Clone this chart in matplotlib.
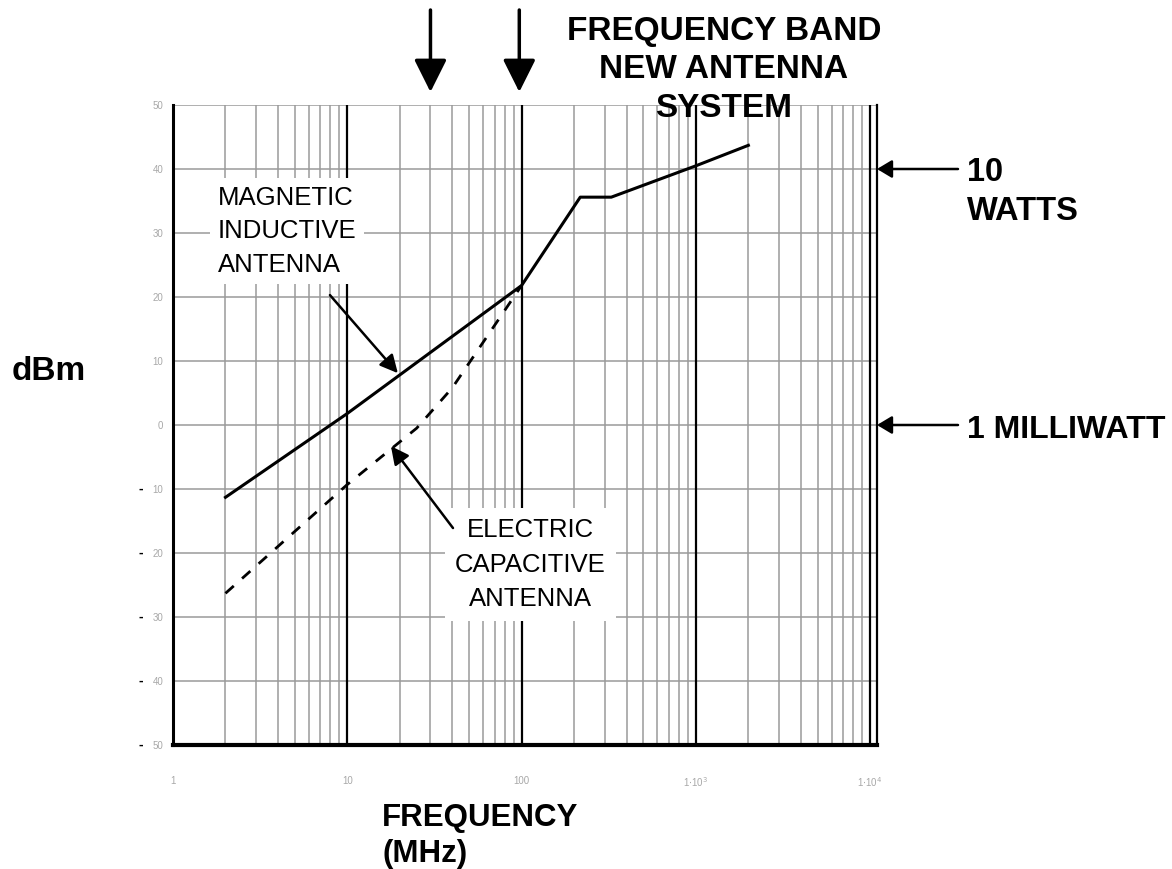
import matplotlib.pyplot as plt
import numpy as np

# data
freq_mag = [2, 10, 100, 217, 327, 1000, 2000]        # MHz
dbm_mag = [-11.3, 1.8, 21.8, 35.6, 35.6, 40.5, 43.7]  # dBm

freq_el = [2, 10, 25, 40, 100]
dbm_el = [-26.3, -9.3, -0.5, 5.8, 21.8]

y_ticks = [-50, -40, -30, -20, -10, 0, 10, 20, 30, 40, 50]
x_ticks = [1, 10, 100, 1000, 10000]
x_labels = ['1', '10', '100', r'1$\cdot$10$^3$', r'1$\cdot$10$^4$']

band_marks = [30, 97]      # MHz, arrows on top
level_marks = [40, 0]      # dBm: 10 W and 1 mW

plt.rcParams['font.family'] = ['Liberation Sans', 'DejaVu Sans']

fig = plt.figure(figsize=(11.72, 8.69), dpi=100)
ax = fig.add_axes([173 / 1172, 124 / 869, 704 / 1172, 640 / 869])
ax.set_xscale('log')
ax.set_xlim(1, 10 ** (704 / 174.3))
ax.set_ylim(-50, 50)

grey = '#9a9a9a'
# grid
for dec in [1, 10, 100, 1000]:
    for k in range(2, 10):
        ax.axvline(dec * k, color=grey, lw=1.1, zorder=1)
for d in x_ticks[1:]:
    ax.axvline(d, color='black', lw=1.6, zorder=2)
for v in y_ticks:
    ax.axhline(v, color=grey, lw=1.1, zorder=1)

# curves
ax.plot(freq_mag, dbm_mag, color='black', lw=2.2, zorder=5)
ax.plot(freq_el, dbm_el, color='black', lw=2.0, dashes=(4, 4), zorder=5)

# spines
ax.spines['top'].set_visible(False)
ax.spines['left'].set_linewidth(2.2)
ax.spines['bottom'].set_linewidth(3)
ax.spines['right'].set_linewidth(1.6)
for s in ax.spines.values():
    s.set_zorder(6)

ax.set_yticks(y_ticks)
ax.set_yticklabels([str(abs(v)) for v in y_ticks], color='#a8a8a8', fontsize=7)
ax.set_xticks(x_ticks)
ax.set_xticklabels(x_labels, color='#a8a8a8', fontsize=7)
ax.minorticks_off()
ax.tick_params(axis='both', length=0)
ax.tick_params(axis='y', pad=7)
ax.tick_params(axis='x', pad=22)
for v in y_ticks:
    if v < 0:
        ax.annotate('-', xy=(0, v), xycoords=('axes fraction', 'data'),
                    xytext=(-23, 0), textcoords='offset points',
                    ha='center', va='center', fontsize=10, fontweight='bold')

# annotation labels
ax.text(1.81, 30.3, 'MAGNETIC\nINDUCTIVE\nANTENNA',
        ha='left', va='center', fontsize=18.5, linespacing=1.5, zorder=7,
        bbox=dict(boxstyle='square,pad=0.3', fc='white', ec='none'))
ax.text(112, -21.8, 'ELECTRIC\nCAPACITIVE\nANTENNA',
        ha='center', va='center', fontsize=18.5, linespacing=1.55, zorder=7,
        bbox=dict(boxstyle='square,pad=0.4', fc='white', ec='none'))
arrow_kw = dict(arrowstyle='-|>,head_length=0.6,head_width=0.3',
                color='black', lw=1.8, mutation_scale=18, shrinkA=0, shrinkB=0)
ax.annotate('', xy=(19.5, 8.1), xytext=(7.95, 20.3), arrowprops=arrow_kw, zorder=8)
ax.annotate('', xy=(17.8, -3.3), xytext=(40.4, -16.1), arrowprops=arrow_kw, zorder=8)

# frequency band arrows
for f in band_marks:
    ax.annotate('', xy=(f, 1 - 92 / 869), xycoords=('data', 'figure fraction'),
                xytext=(f, 1 - 10 / 869), textcoords=('data', 'figure fraction'),
                arrowprops=dict(arrowstyle='-|>,head_length=1.0,head_width=0.5',
                                color='black', lw=2.5, mutation_scale=20,
                                shrinkA=0, shrinkB=0))
fig.text(724 / 1172, 1 - 70 / 869, 'FREQUENCY BAND\nNEW ANTENNA\nSYSTEM',
         ha='center', va='center', fontsize=24, fontweight='bold', linespacing=1.3,
         zorder=8)

# power level arrows
for v in level_marks:
    ax.annotate('', xy=(1.0, v), xycoords=('axes fraction', 'data'),
                xytext=(958 / 1172, v), textcoords=('figure fraction', 'data'),
                arrowprops=dict(arrowstyle='-|>,head_length=0.5,head_width=0.3',
                                color='black', lw=1.8, mutation_scale=18,
                                shrinkA=0, shrinkB=0), annotation_clip=False)
fig.text(967 / 1172, 1 - 192 / 869, '10\nWATTS', ha='left', va='center',
         fontsize=23.5, fontweight='bold', linespacing=1.3)
fig.text(967 / 1172, 1 - 430 / 869, '1 MILLIWATT', ha='left', va='center',
         fontsize=23, fontweight='bold')

fig.text(12 / 1172, 1 - 371 / 869, 'dBm', ha='left', va='center',
         fontsize=24, fontweight='bold')
fig.text(382 / 1172, 1 - 836 / 869, 'FREQUENCY\n(MHz)', ha='left', va='center',
         fontsize=22.5, fontweight='bold', linespacing=1.3)

fig.savefig('out.png', dpi=100)
